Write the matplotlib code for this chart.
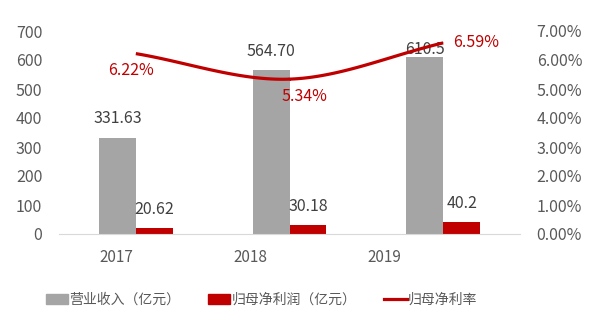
import numpy as np
import matplotlib
matplotlib.use("Agg")
import matplotlib.pyplot as plt
from matplotlib.patches import Patch
from matplotlib.lines import Line2D

plt.rcParams['font.family'] = ['Noto Sans CJK SC', 'DejaVu Sans']

years = ['2017', '2018', '2019']
revenue = [331.63, 564.70, 610.5]
revenue_labels = ['331.63', '564.70', '610.5']
profit = [20.62, 30.18, 40.2]
profit_labels = ['20.62', '30.18', '40.2']
margin = [0.0622, 0.0534, 0.0659]
margin_labels = ['6.22%', '5.34%', '6.59%']

gray = '#A5A5A5'
red = '#C00000'
txt = '#595959'

fig = plt.figure(figsize=(6.04, 3.25), dpi=100)
ax = fig.add_axes([59/604, 1-234/325, (520-59)/604, (234-31)/325])
ax2 = ax.twinx()

x = np.arange(len(years))
w = 0.24
ax.bar(x - w/2, revenue, w, color=gray, zorder=2)
ax.bar(x + w/2, profit, w, color=red, zorder=2)
ax.set_xlim(-0.5, 2.5)
ax.set_ylim(0, 700)
ax.set_yticks(np.arange(0, 701, 100))

# data labels
rev_off = [19, 19, 7]
for i, (v, s) in enumerate(zip(revenue, revenue_labels)):
    ax.annotate(s, (x[i] - w/2, v), xytext=(0, rev_off[i]), textcoords='offset pixels',
                ha='center', va='center', fontsize=11.5, color='#404040', zorder=5)
for i, (v, s) in enumerate(zip(profit, profit_labels)):
    ax.annotate(s, (x[i] + w/2, v), xytext=(0, 19), textcoords='offset pixels',
                ha='center', va='center', fontsize=11.5, color='#404040', zorder=5)

# smooth line (Catmull-Rom through the points)
px = x.astype(float)
py = np.array(margin)
pts = np.column_stack([px, py])
ext = np.vstack([2*pts[0]-pts[1], pts, 2*pts[-1]-pts[-2]])
cx, cy = [], []
for i in range(1, len(ext)-2):
    p0, p1, p2, p3 = ext[i-1], ext[i], ext[i+1], ext[i+2]
    t = np.linspace(0, 1, 60)[:, None]
    seg = 0.5*((2*p1) + (-p0+p2)*t + (2*p0-5*p1+4*p2-p3)*t**2 + (-p0+3*p1-3*p2+p3)*t**3)
    cx.extend(seg[:, 0]); cy.extend(seg[:, 1])
ax2.plot(cx, cy, color=red, lw=2.3, zorder=4, solid_capstyle='butt')
ax2.set_ylim(0, 0.07)
ax2.set_yticks(np.arange(0, 0.0701, 0.01))
ax2.yaxis.set_major_formatter(matplotlib.ticker.FuncFormatter(lambda v, p: f'{v*100:.2f}%'))

m_off = [(-5, -17), (15, -17), (33, 0)]
for i, (v, s) in enumerate(zip(margin, margin_labels)):
    ax2.annotate(s, (x[i], v), xytext=m_off[i], textcoords='offset pixels',
                 ha='center', va='center', fontsize=11.5, color=red, zorder=5)

for a in (ax, ax2):
    for sp in a.spines.values():
        sp.set_visible(False)
ax.spines['bottom'].set_visible(True)
ax.spines['bottom'].set_color('#D9D9D9')
ax.tick_params(axis='y', length=0, labelsize=11.5, labelcolor=txt, pad=12)
ax2.tick_params(axis='y', length=0, labelsize=11.5, labelcolor=txt, pad=12)

# category labels
ax.set_xticks(x * 0.87 - 0.125)
ax.set_xticklabels(years)
ax.tick_params(axis='x', length=0, labelsize=11, labelcolor=txt, pad=11)

handles = [Patch(color=gray, label='营业收入（亿元）'),
           Patch(color=red, label='归母净利润（亿元）'),
           Line2D([0], [0], color=red, lw=2.3, label='归母净利率')]
leg = fig.legend(handles=handles, loc='center', bbox_to_anchor=(0.433, 1-300/325), ncol=3,
                 frameon=False, fontsize=10, handlelength=1.6, handleheight=0.75,
                 handletextpad=0.1, columnspacing=2.0)
for t in leg.get_texts():
    t.set_color(txt)

fig.savefig('out.png', dpi=100)
